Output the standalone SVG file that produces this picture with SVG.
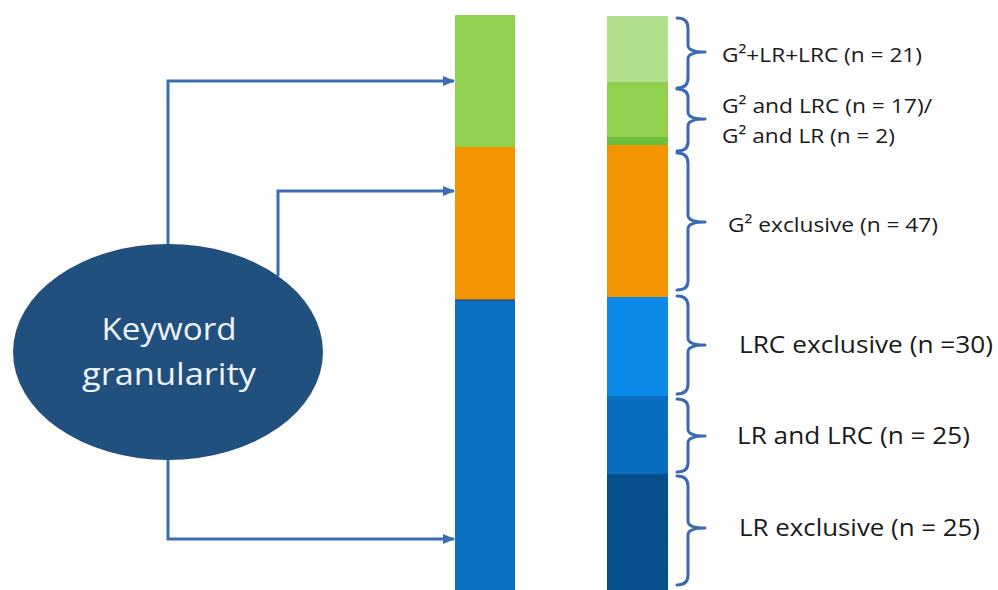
<svg xmlns="http://www.w3.org/2000/svg" width="998" height="590" viewBox="0 0 998 590">
  <style>
    .conn { fill: none; stroke: #3b6db5; stroke-width: 3; }
    .brace { fill: none; stroke: #3b6ab3; stroke-width: 3; stroke-linejoin: round; stroke-linecap: round; }
    .lbl { font-family: "Open Sans", "Liberation Sans", sans-serif; fill: #1a1a1a; }
    .node-text { font-family: "Open Sans", "Liberation Sans", sans-serif; fill: #eef3f8; font-size: 31px; text-anchor: middle; }
  </style>
  <defs>
    <marker id="arrow" viewBox="0 0 12 10" refX="11" refY="5" markerWidth="12" markerHeight="10" markerUnits="userSpaceOnUse" orient="auto">
      <path d="M0,0 L12,5 L0,10 Z" fill="#3b6db5"/>
    </marker>
  </defs>
  <rect width="998" height="590" fill="#ffffff"/>

  <!-- connectors from the ellipse to the left bar -->
  <g id="connectors">
    <path class="conn" d="M168,246 V81 H454" marker-end="url(#arrow)"/>
    <path class="conn" d="M278,276 V191 H454" marker-end="url(#arrow)"/>
    <path class="conn" d="M168,459 V539 H454" marker-end="url(#arrow)"/>
  </g>

  <!-- source node -->
  <g id="keyword-granularity">
    <ellipse cx="168" cy="352" rx="155" ry="108" fill="#214f7e"/>
    <text class="node-text" x="169" y="340" textLength="135" lengthAdjust="spacingAndGlyphs">Keyword</text>
    <text class="node-text" x="169" y="385" textLength="174" lengthAdjust="spacingAndGlyphs">granularity</text>
  </g>

  <!-- left stacked bar -->
  <g id="left-bar">
    <rect x="455" y="15" width="60" height="132" fill="#92d050"/>
    <rect x="455" y="147" width="60" height="153" fill="#f39300"/>
    <rect x="455" y="300" width="60" height="290" fill="#0b6fc1"/>
    <rect x="455" y="299" width="60" height="2" fill="#1f4f7a" opacity="0.6"/>
  </g>

  <!-- right stacked bar -->
  <g id="right-bar">
    <rect x="607" y="16" width="61" height="66" fill="#b1df8c"/>
    <rect x="607" y="82" width="61" height="55" fill="#92d050"/>
    <rect x="607" y="137" width="61" height="8" fill="#6cbf3c"/>
    <rect x="607" y="145" width="61" height="152" fill="#f39500"/>
    <rect x="607" y="297" width="61" height="99" fill="#0b8ae7"/>
    <rect x="607" y="396" width="61" height="78" fill="#0a6ec0"/>
    <rect x="607" y="474" width="61" height="116" fill="#064f8b"/>
  </g>

  <!-- braces -->
  <g id="braces">
    <path class="brace" d="M677,18 Q688,18 688,28 V45 Q688,52 705,52 Q688,52 688,59 V78 Q688,88 677,88"/>
    <path class="brace" d="M677,89 Q688,89 688,98 V112 Q688,119 705,119 Q688,119 688,126 V142 Q688,151 677,151"/>
    <path class="brace" d="M677,153 Q688,153 688,163 V215 Q688,222 705,222 Q688,222 688,229 V281 Q688,290 677,290"/>
    <path class="brace" d="M677,296 Q688,296 688,306 V338 Q688,345 705,345 Q688,345 688,352 V384 Q688,394 677,394"/>
    <path class="brace" d="M677,399 Q688,399 688,408 V429 Q688,436 705,436 Q688,436 688,443 V463 Q688,472 677,472"/>
    <path class="brace" d="M677,476 Q688,476 688,486 V521 Q688,528 705,528 Q688,528 688,535 V575 Q688,585 677,585"/>
  </g>

  <!-- labels -->
  <g id="labels">
    <text class="lbl" x="722" y="62" font-size="20" textLength="200" lengthAdjust="spacingAndGlyphs">G²+LR+LRC (n = 21)</text>
    <text class="lbl" x="722" y="113" font-size="20" textLength="210" lengthAdjust="spacingAndGlyphs">G² and LRC (n = 17)/</text>
    <text class="lbl" x="722" y="143" font-size="20" textLength="173" lengthAdjust="spacingAndGlyphs">G² and LR (n = 2)</text>
    <text class="lbl" x="728" y="232" font-size="20" textLength="210" lengthAdjust="spacingAndGlyphs">G² exclusive (n = 47)</text>
    <text class="lbl" x="739" y="353" font-size="24" textLength="254" lengthAdjust="spacingAndGlyphs">LRC exclusive (n =30)</text>
    <text class="lbl" x="737" y="444" font-size="24" textLength="233" lengthAdjust="spacingAndGlyphs">LR and LRC (n = 25)</text>
    <text class="lbl" x="739" y="536" font-size="24" textLength="241" lengthAdjust="spacingAndGlyphs">LR exclusive (n = 25)</text>
  </g>
</svg>
